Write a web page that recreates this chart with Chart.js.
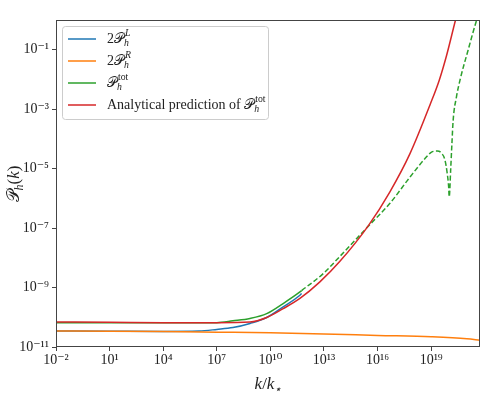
<!DOCTYPE html>
<html><head><meta charset="utf-8">
<script src="https://cdn.jsdelivr.net/npm/chart.js@4/dist/chart.umd.min.js"></script>
<style>html,body{margin:0;padding:0;background:#fff}canvas{display:block}</style>
</head><body>
<canvas id="c" width="498" height="399"></canvas>
<script>
// ---- data ----
const xTickValues = [1e-2, 1e1, 1e4, 1e7, 1e10, 1e13, 1e16, 1e19];
const xTickLabels = ['10⁻²', '10¹', '10⁴', '10⁷', '10¹⁰', '10¹³', '10¹⁶', '10¹⁹'];
const yTickValues = [1e-11, 1e-9, 1e-7, 1e-5, 1e-3, 1e-1];
const yTickLabels = ['10⁻¹¹', '10⁻⁹', '10⁻⁷', '10⁻⁵', '10⁻³', '10⁻¹'];

// 2P_h^L (blue)
const kL = [1e-2, 1e1, 1e4, 1e6, 1e7, 8e7, 7.2e8, 6.2e9, 5.2e10, 4.5e11, 5.6e11];
const pL = [3.45e-11, 3.4e-11, 3.35e-11, 3.45e-11, 3.9e-11, 4.5e-11, 6.2e-11, 9.8e-11, 2.24e-10, 5.5e-10, 6.3e-10];

// 2P_h^R (orange)
const kR = [1e-2, 1e1, 1e4, 1e7, 1e10, 1e13, 1e16, 1e19, 1e21, 5.4e21];
const pR = [3.47e-11, 3.4e-11, 3.3e-11, 3.15e-11, 3.0e-11, 2.75e-11, 2.45e-11, 2.2e-11, 1.9e-11, 1.7e-11];

// P_h^tot (green) – solid up to kTotSolidEnd, dashed beyond
const kTot = [1e-2, 1e1, 1e4, 1e7, 8e7, 7.2e8, 6.2e9, 5.2e10, 4.5e11, 5.6e11,
  9.1e12, 7.8e13, 3.2e15, 4.9e16, 6.5e17, 5.5e18, 1.05e19, 2.2e19, 3.8e19,
  5.9e19, 7.9e19, 9.5e19, 1.02e20, 1.23e20, 1.45e20, 1.7e20, 2.6e20, 4.1e20, 1.17e21, 3.5e21, 5.4e21];
const pTot = [6.6e-11, 6.6e-11, 6.6e-11, 6.6e-11, 7.6e-11, 9.1e-11, 1.32e-10, 2.9e-10, 7.1e-10, 7.9e-10,
  2.95e-9, 1.12e-8, 1.2e-7, 6.8e-7, 5.2e-6, 2.5e-5, 3.6e-5, 3.9e-5, 3.3e-5,
  1.95e-5, 6.9e-6, 2.45e-6, 1.12e-6, 8.9e-6, 7.1e-5, 4.3e-4, 2.6e-3, 9.5e-3, 9.8e-2, 1.0, 2.2];
const kTotSolidEnd = 5.6e11;

// Analytical prediction of P_h^tot (red)
const kAn = [1e-2, 1e1, 1e4, 1e7, 7.2e8, 6.2e9, 5.2e10, 4.5e11, 5.9e12, 7.8e13, 3.2e15, 4.9e16, 6.5e17, 9.3e18, 2.8e19, 7.2e19, 2.3e20, 4e20];
const pAn = [6.9e-11, 6.8e-11, 6.6e-11, 6.6e-11, 6.9e-11, 9.8e-11, 1.95e-10, 4.3e-10, 1.55e-9, 7.6e-9, 1.26e-7, 1.66e-6, 3.2e-5, 1.58e-3, 9.3e-3, 6.3e-2, 1.0, 3.5];

const seriesLabels = ['2P_h^L', '2P_h^R', 'P_h^tot', 'Analytical prediction of P_h^tot'];
const seriesColors = ['#1f77b4', '#ff7f0e', '#2ca02c', '#d62728'];

// ---- rendering ----
const SERIF = "'Liberation Serif', 'DejaVu Serif', serif";
const MATH = "'DejaVu Serif', 'DejaVu Sans', 'Noto Sans', serif";
const pts = (xs, ys) => xs.map((x, i) => ({x, y: ys[i]}));

// rich label pieces for legend and axis titles
const legendParts = [
  ['2', {m: '𝒫'}, {sup: 'L', sub: 'h', supIt: true}],
  ['2', {m: '𝒫'}, {sup: 'R', sub: 'h', supIt: true}],
  [{m: '𝒫'}, {sup: 'tot', sub: 'h', supIt: false}],
  ['Analytical prediction of ', {m: '𝒫'}, {sup: 'tot', sub: 'h', supIt: false}]
];

function drawRich(ctx, x, y, parts, size) {
  for (const p of parts) {
    if (typeof p === 'string') {
      ctx.font = `${size}px ${SERIF}`;
      ctx.fillText(p, x, y); x += ctx.measureText(p).width;
    } else if (p.m) {
      ctx.font = `${size}px ${MATH}`;
      ctx.fillText(p.m, x, y); x += ctx.measureText(p.m).width;
    } else if (p.it) {
      ctx.font = `italic ${size}px ${SERIF}`;
      ctx.fillText(p.it, x, y); x += ctx.measureText(p.it).width;
    } else if (p.sub && !p.sup) {
      ctx.font = `italic ${size * 0.7}px ${SERIF}`;
      ctx.fillText(p.sub, x, y + size * 0.28); x += ctx.measureText(p.sub).width;
    } else {
      const s = size * 0.7;
      ctx.font = `${p.supIt ? 'italic ' : ''}${s}px ${SERIF}`;
      const w1 = ctx.measureText(p.sup).width;
      ctx.fillText(p.sup, x + 1, y - size * 0.38);
      ctx.font = `italic ${s}px ${SERIF}`;
      const w2 = ctx.measureText(p.sub).width;
      ctx.fillText(p.sub, x, y + size * 0.3);
      x += Math.max(w1 + 1, w2);
    }
  }
  return x;
}

const decorPlugin = {
  id: 'decor',
  afterDraw(chart) {
    const ctx = chart.ctx, a = chart.chartArea;
    ctx.save();
    // frame
    ctx.strokeStyle = '#444'; ctx.lineWidth = 1;
    ctx.strokeRect(Math.round(a.left) + 0.5, Math.round(a.top) + 0.5,
      Math.round(a.right - a.left) - 1, Math.round(a.bottom - a.top) - 1);
    // legend
    const bx = 62.5, by = 26.5, bw = 206, bh = 93;
    ctx.fillStyle = 'rgba(255,255,255,0.8)';
    ctx.strokeStyle = '#cccccc';
    ctx.beginPath(); ctx.roundRect(bx, by, bw, bh, 3); ctx.fill(); ctx.stroke();
    const rows = [39, 61, 83, 105];
    ctx.textBaseline = 'middle';
    ctx.textAlign = 'left';
    rows.forEach((ry, i) => {
      ctx.strokeStyle = seriesColors[i]; ctx.lineWidth = 1.5;
      ctx.beginPath(); ctx.moveTo(68, ry); ctx.lineTo(96, ry); ctx.stroke();
      ctx.fillStyle = '#222';
      drawRich(ctx, 107, ry, legendParts[i], 14);
    });
    // y title
    ctx.save();
    ctx.translate(15, 184); ctx.rotate(-Math.PI / 2);
    ctx.fillStyle = '#222';
    ctx.textBaseline = 'middle';
    const yParts = [{m: '𝒫'}, {sub: 'h'}, '(', {it: 'k'}, ')'];
    ctx.globalAlpha = 0; const w = drawRich(ctx, 0, 0, yParts, 17); ctx.globalAlpha = 1;
    drawRich(ctx, -w / 2, 0, yParts, 17);
    ctx.restore();
    // x title
    ctx.fillStyle = '#222'; ctx.textBaseline = 'middle';
    const xParts = [{it: 'k'}, '/', {it: 'k'}, {sub: '⋆'}];
    ctx.globalAlpha = 0; const wx = drawRich(ctx, 0, 0, xParts, 17); ctx.globalAlpha = 1;
    drawRich(ctx, 268 - wx / 2, 385, xParts, 17);
    ctx.restore();
  }
};

new Chart(document.getElementById('c'), {
  type: 'line',
  data: {
    datasets: [
      {label: seriesLabels[0], data: pts(kL, pL), borderColor: seriesColors[0], order: 3},
      {label: seriesLabels[1], data: pts(kR, pR), borderColor: seriesColors[1], order: 2},
      {label: seriesLabels[2], data: pts(kTot, pTot), borderColor: seriesColors[2], order: 1,
        segment: {borderDash: c => c.p0.parsed.x >= kTotSolidEnd ? [5, 2.5] : undefined}},
      {label: seriesLabels[3], data: pts(kAn, pAn), borderColor: seriesColors[3], order: 0}
    ].map(d => Object.assign({borderWidth: 1.5, pointRadius: 0, fill: false, cubicInterpolationMode: 'monotone'}, d))
  },
  options: {
    responsive: false, animation: false,
    layout: {padding: {top: 20, right: 18, left: 0, bottom: 0}},
    scales: {
      x: {
        type: 'logarithmic', min: 1e-2, max: 5.4e21,
        afterBuildTicks: s => { s.ticks = xTickValues.map(v => ({value: v})); },
        afterFit: s => { s.height = 52; },
        border: {display: false},
        grid: {drawOnChartArea: false, drawTicks: true, tickLength: 4, color: '#444'},
        ticks: {autoSkip: false, maxRotation: 0, padding: 1, color: '#222',
          font: {family: SERIF, size: 14}, callback: (v, i) => xTickLabels[i]}
      },
      y: {
        type: 'logarithmic', min: 1e-11, max: 1,
        afterBuildTicks: s => { s.ticks = yTickValues.map(v => ({value: v})); },
        afterFit: s => { s.width = 56; },
        border: {display: false},
        grid: {drawOnChartArea: false, drawTicks: true, tickLength: 4, color: '#444'},
        ticks: {autoSkip: false, padding: 3, color: '#222',
          font: {family: SERIF, size: 14}, callback: (v, i) => yTickLabels[i]}
      }
    },
    plugins: {legend: {display: false}, tooltip: {enabled: false}}
  },
  plugins: [decorPlugin]
});
</script>
</body></html>
